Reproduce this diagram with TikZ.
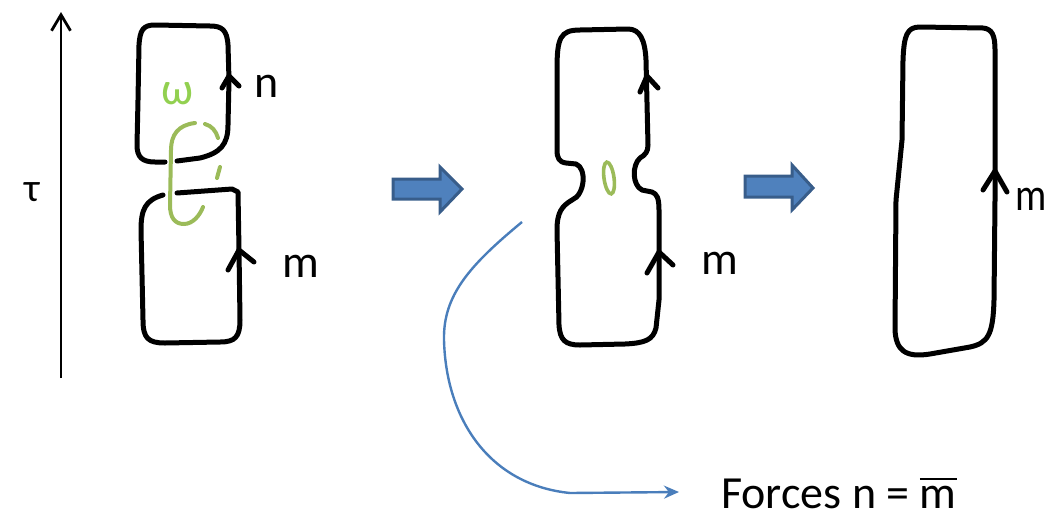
\documentclass[tikz,border=0pt]{standalone}
\usepackage{fontspec}
\setmainfont{Carlito}
\usetikzlibrary{arrows.meta}
\definecolor{inkgreen}{HTML}{9BBB59}
\definecolor{lightgreen}{HTML}{92D050}
\definecolor{arrowfill}{HTML}{4F81BD}
\definecolor{arrowedge}{HTML}{385D8A}
\definecolor{curveblue}{HTML}{4A7EBB}
% letter with a bar over it
\newcommand\barletter[1]{\setbox0\hbox{#1}\rlap{\rule[0.61em]{\wd0}{0.05em}}#1}
\tikzset{
  loop/.style={line width=5pt, line cap=round, line join=round},
  chev/.style={line width=5pt, line cap=round, line join=round},
  ring/.style={inkgreen, line width=4pt, line cap=round},
  blockarrow/.style={fill=arrowfill, draw=arrowedge, line width=3pt, line join=miter},
  hand/.style={inner sep=0pt, font=\fontsize{46}{50}\selectfont},
}
\begin{document}
\begin{tikzpicture}[x=1pt, y=-1pt]
\useasboundingbox (0,0) rectangle (1049,520);

% time axis
\coordinate (tbot) at (61,378);
\coordinate (ttop) at (61,12);
\draw[line width=2.8pt, -{Straight Barb[length=16pt,width=19pt,line width=2.8pt]}] (tbot) -- (ttop);
\node[inner sep=0pt, font=\fontsize{40}{44}\selectfont] (tau) at (32,192) {τ};

% first stage: two linked loops
\draw[loop] (177,161) -- (200,158) .. controls (220,153) and (228,145) .. (228,125)
  -- (229,80) -- (228,45) .. controls (227,30) and (222,26) .. (210,26)
  -- (155,25) .. controls (143,25) and (140,30) .. (139,45) -- (138,100)
  -- (137,145) .. controls (137,157) and (142,162) .. (155,162) -- (165,162);
\draw[chev] (222,88) -- (229,76) -- (239,86);
\node[hand] (n1) at (267,86) {n};

\draw[loop] (177,193) -- (232,189) -- (238,192) -- (239,250) -- (240,320)
  .. controls (240,337) and (235,342) .. (220,342) -- (165,343)
  .. controls (148,343) and (143,338) .. (143,320) -- (141,230)
  .. controls (141,210) and (145,200) .. (163,195);
\draw[chev] (228,270) -- (239,250) -- (254,262);
\node[hand] (m1) at (301,266) {m};

% Wilson loop around the neck
\node[hand, lightgreen, font=\fontsize{46}{50}\selectfont] (omega) at (178,94) {ω};
\draw[ring] (195,123) .. controls (178,125) and (171,135) .. (171,150) -- (170,205)
  .. controls (170,218) and (175,224) .. (184,224) .. controls (193,224) and (200,215) .. (203,207);
\draw[ring] (205,124) .. controls (212,126) and (216,131) .. (218,138);
\draw[ring] (220,167) -- (217,178);

% first block arrow
\draw[blockarrow] (393,179) -- (440,179) -- (440,167) -- (462,189) -- (440,212) -- (440,199) -- (393,199) -- cycle;

% second stage: loops joined through a neck
\draw[loop] (557,150) -- (557,70) .. controls (557,38) and (560,30) .. (580,30)
  -- (628,29) .. controls (640,29) and (645,40) .. (646,60) -- (648,145)
  .. controls (648,152) and (645,155) .. (640,158)
  .. controls (632,165) and (632,185) .. (642,190) -- (652,192)
  .. controls (657,194) and (659,198) .. (659,210) -- (659,300) -- (656,328)
  .. controls (653,340) and (645,343) .. (625,344) -- (580,345)
  .. controls (565,345) and (560,340) .. (559,325) -- (557,230)
  .. controls (557,212) and (562,206) .. (572,200)
  .. controls (585,195) and (587,168) .. (576,164) -- (566,163)
  .. controls (559,162) and (557,158) .. (557,150) -- cycle;
\draw[chev] (640,92) -- (647,76) -- (658,88);
\draw[chev] (647,273) -- (659,252) -- (673,265);
\node[hand] (m2) at (720,263) {m};
\draw[inkgreen, line width=3.6pt] (609,178) ellipse[x radius=5, y radius=16, rotate=8];

% second block arrow
\draw[blockarrow] (745,176) -- (792,176) -- (792,165) -- (813,188) -- (792,210) -- (792,197) -- (745,197) -- cycle;

% third stage: a single loop
\draw[loop] (902,140) -- (903,60) .. controls (904,35) and (907,27) .. (920,27)
  -- (983,28) .. controls (992,29) and (995,35) .. (995,50) -- (995,200) -- (994,300)
  .. controls (993,335) and (988,343) .. (970,347) -- (930,354)
  .. controls (905,358) and (896,350) .. (895,330) -- (896,200) -- cycle;
\draw[chev] (983,190) -- (995,171) -- (1007,192);
\node[hand, xscale=0.85] (m3) at (1031,199) {m};

% consequence
\coordinate (cstart) at (522,222);
\coordinate (cend) at (679,492);
\node[inner sep=0pt, anchor=base west, font=\fontsize{46}{50}\selectfont] (result) at (721,508) {Forces n = \barletter{m}};
\draw[curveblue, line width=2.4pt, -{Stealth[length=15pt,width=13pt]}]
  (cstart) .. controls (470,265) and (443,295) .. (444,340)
  .. controls (446,420) and (490,485) .. (570,493) -- (cend);
\end{tikzpicture}
\end{document}
